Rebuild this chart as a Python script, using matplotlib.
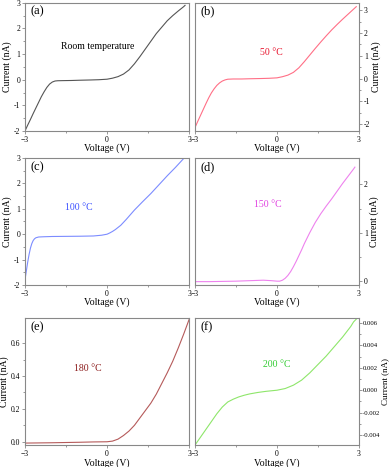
import matplotlib.pyplot as plt

plt.rcParams["font.family"] = ["Liberation Serif", "DejaVu Serif"]

# I-V curves (voltage in V, current in nA)
v_a = [-3, -2.9, -2.8, -2.7, -2.6, -2.5, -2.4, -2.3, -2.2, -2.1, -2.0, -1.9, -1.8, -1.6, -1.3, -1.0,
       -0.6, -0.3, 0, 0.2, 0.4, 0.6, 0.8, 1.0, 1.2, 1.4, 1.6, 1.8, 2.0, 2.2, 2.4, 2.6, 2.8, 2.85]
i_a = [-2.0, -1.77, -1.55, -1.32, -1.1, -0.88, -0.66, -0.47, -0.3, -0.17, -0.09, -0.05, -0.04, -0.035,
       -0.03, -0.02, -0.01, 0.0, 0.02, 0.06, 0.12, 0.22, 0.38, 0.62, 0.9, 1.2, 1.5, 1.8, 2.05, 2.3,
       2.5, 2.68, 2.85, 2.9]

v_b = [-3, -2.9, -2.8, -2.7, -2.6, -2.5, -2.4, -2.3, -2.2, -2.1, -2.0, -1.9, -1.8, -1.6, -1.3, -1.0,
       -0.6, -0.3, 0, 0.2, 0.4, 0.6, 0.8, 1.0, 1.2, 1.4, 1.6, 1.8, 2.0, 2.2, 2.4, 2.6, 2.8, 2.9]
i_b = [-2.15, -1.88, -1.62, -1.36, -1.1, -0.85, -0.63, -0.45, -0.3, -0.19, -0.11, -0.06, -0.03, -0.02,
       -0.02, -0.01, 0.0, 0.01, 0.03, 0.08, 0.15, 0.27, 0.47, 0.74, 1.03, 1.32, 1.6, 1.87, 2.13, 2.37,
       2.6, 2.82, 3.04, 3.15]

v_c = [-3, -2.95, -2.9, -2.85, -2.8, -2.75, -2.7, -2.65, -2.6, -2.5, -2.3, -2.0, -1.5, -1.0, -0.5,
       -0.2, 0, 0.1, 0.2, 0.3, 0.5, 0.7, 1.0, 1.3, 1.6, 1.9, 2.2, 2.5, 2.8]
i_c = [-1.8, -1.45, -1.1, -0.8, -0.55, -0.37, -0.25, -0.18, -0.14, -0.11, -0.1, -0.09, -0.085, -0.08,
       -0.07, -0.04, 0.0, 0.05, 0.11, 0.18, 0.35, 0.58, 0.95, 1.28, 1.6, 1.95, 2.3, 2.63, 2.98]

v_d = [-3, -2.5, -2.0, -1.5, -1.0, -0.5, -0.2, 0, 0.1, 0.2, 0.3, 0.4, 0.5, 0.6, 0.7, 0.8, 0.9, 1.0,
       1.2, 1.4, 1.6, 1.8, 2.0, 2.2, 2.4, 2.6, 2.8, 2.85]
i_d = [-0.02, -0.02, -0.015, -0.01, 0.0, 0.01, 0.0, -0.01, -0.01, 0.01, 0.05, 0.11, 0.19, 0.29, 0.4,
       0.52, 0.64, 0.77, 1.0, 1.21, 1.39, 1.55, 1.7, 1.86, 2.02, 2.17, 2.32, 2.36]

v_e = [-3, -2, -1, -0.5, 0, 0.2, 0.4, 0.6, 0.8, 1.0, 1.2, 1.4, 1.6, 1.8, 2.0, 2.2, 2.4, 2.6, 2.8, 3.0]
i_e = [-0.008, -0.006, -0.003, -0.001, 0.0, 0.004, 0.016, 0.038, 0.065, 0.1, 0.145, 0.19, 0.235,
       0.29, 0.355, 0.42, 0.49, 0.57, 0.655, 0.745]

v_f = [-3, -2.8, -2.6, -2.4, -2.2, -2.0, -1.8, -1.6, -1.4, -1.2, -1.0, -0.7, -0.4, 0, 0.3, 0.6, 0.9,
       1.2, 1.5, 1.8, 2.1, 2.4, 2.7, 2.8, 2.9]
i_f = [-0.0049, -0.0042, -0.0035, -0.0028, -0.0021, -0.0015, -0.00105, -0.0008, -0.0006, -0.00045,
       -0.00033, -0.0002, -0.0001, 0.0, 0.00015, 0.00045, 0.0009, 0.00155, 0.0023, 0.00305, 0.0039,
       0.00475, 0.0057, 0.0061, 0.00635]

panels = [
    ("(a)", "Room temperature", v_a, i_a, "#555555", "#000000", (-2, 3), [-2, -1, 0, 1, 2, 3], "{:.0f}"),
    ("(b)", "50 °C", v_b, i_b, "#ff6f86", "#e8102a", (-2.3, 3.32), [-2, -1, 0, 1, 2, 3], "{:.0f}"),
    ("(c)", "100 °C", v_c, i_c, "#7c8cff", "#3a4fff", (-2, 3), [-2, -1, 0, 1, 2, 3], "{:.0f}"),
    ("(d)", "150 °C", v_d, i_d, "#ee82ee", "#e040e0", (-0.09, 2.55), [0, 1, 2], "{:.0f}"),
    ("(e)", "180 °C", v_e, i_e, "#b55a5a", "#8b1a1a", (-0.02, 0.753), [0.0, 0.2, 0.4, 0.6], "{:.1f}"),
    ("(f)", "200 °C", v_f, i_f, "#8ee66a", "#33cc33", (-0.0049, 0.00645),
     [-0.004, -0.002, 0.0, 0.002, 0.004, 0.006], "{:.3f}"),
]
text_pos = [(0.443, 0.66), (0.467, 0.61), (0.33, 0.613), (0.443, 0.636), (0.382, 0.6), (0.498, 0.635)]

fig = plt.figure(figsize=(3.9, 4.67), dpi=100)
rows = [(0.7195, 0.994), (0.3897, 0.6617), (0.047, 0.319)]
cols = [(0.064, 0.485), (0.5, 0.9205)]

for k, (tag, note, v, cur, lc, tc, ylim, yticks, fmt) in enumerate(panels):
    r, c = divmod(k, 2)
    x0, x1 = cols[c]
    y0, y1 = rows[r]
    ax = fig.add_axes([x0, y0, x1 - x0, y1 - y0])
    ax.plot(v, cur, color=lc, lw=0.8)
    ax.set_xlim(-3, 3)
    ax.set_ylim(*ylim)
    ax.set_xticks([-3, 0, 3])
    ax.set_xticks([-1.5, 1.5], minor=True)
    ax.set_yticks(yticks)
    step = yticks[1] - yticks[0]
    ax.set_yticks([t + step / 2 for t in yticks[:-1]], minor=True)
    ax.set_yticklabels([fmt.format(t) for t in yticks])
    for s in ax.spines.values():
        s.set_color("#888888")
        s.set_linewidth(0.8)
    ax.tick_params(which="both", direction="out", color="#888888", width=0.6,
                   labelsize=5.5, pad=1)
    ax.tick_params(which="major", length=2.5)
    ax.tick_params(which="minor", length=1.5)
    if c == 1:
        ax.yaxis.tick_right()
        ax.yaxis.set_label_position("right")
    if k == 5:
        # long tick labels: squeeze them so the axis title still fits
        ax.tick_params(axis="y", labelsize=4.8, pad=0.5)
        ax.set_ylabel("Current (nA)", fontsize=6.5, labelpad=0.5)
    else:
        ax.set_ylabel("Current (nA)", fontsize=7, labelpad=1)
    ax.set_xlabel("Voltage (V)", fontsize=7, labelpad=0)
    ax.text(0.035, 0.93, tag, transform=ax.transAxes, fontsize=9, va="center", ha="left")
    ax.text(*text_pos[k], note, transform=ax.transAxes, fontsize=7, color=tc,
            va="center", ha="center")

fig.savefig("out.png", dpi=100)
